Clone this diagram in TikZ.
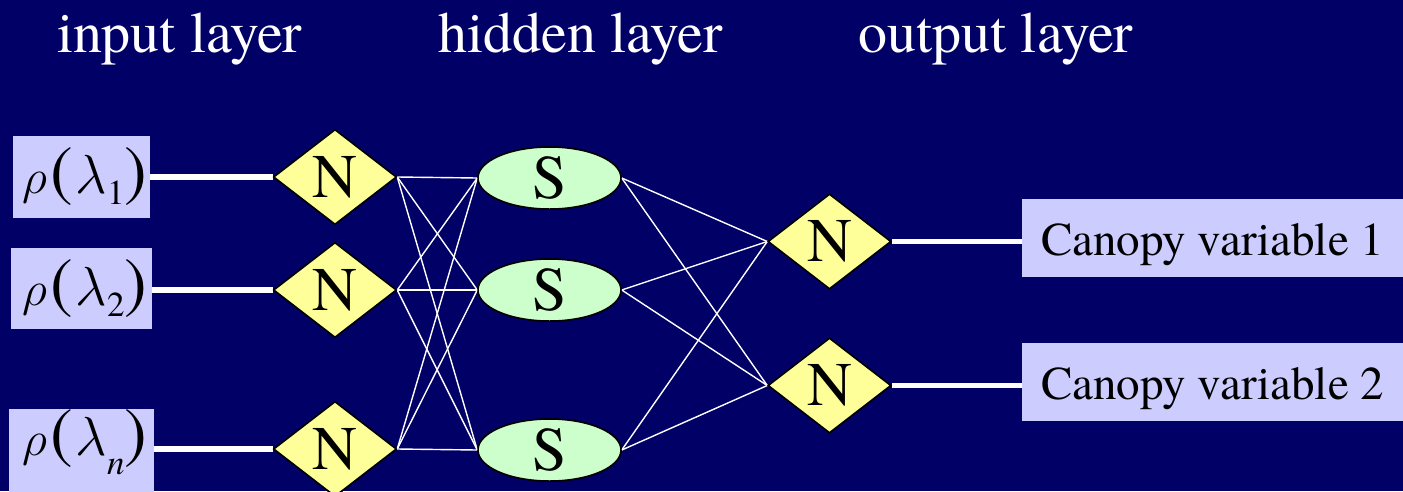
\RequirePackage{fix-cm}
\documentclass[tikz,border=0pt]{standalone}
\usepackage{fontspec}
\setmainfont{TeX Gyre Termes}
\usetikzlibrary{shapes.geometric}

\definecolor{navy}{RGB}{0,0,102}
\definecolor{lavender}{RGB}{204,204,255}
\definecolor{paleyellow}{RGB}{255,255,153}
\definecolor{palegreen}{RGB}{204,255,204}

\newcommand{\fsz}[1]{\fontsize{#1}{#1}\selectfont}
% rho(lambda_k): #1 = subscript, #2 = its drop below the baseline
\newcommand{\rholam}[2]{%
  {\fsz{49}$\rho$}\kern4pt{\fsz{68}(}\kern2pt{\fsz{55}$\lambda$}%
  \kern0pt\raisebox{-#2}{\fsz{35}#1}\kern0pt{\fsz{68})}}

\tikzset{
  inbox/.style={fill=lavender, inner sep=0pt},
  outbox/.style={fill=lavender, inner sep=0pt, minimum width=381pt, minimum height=78pt},
  normnode/.style={diamond, draw=black, line width=1.5pt, fill=paleyellow,
    inner sep=0pt, minimum width=123pt, minimum height=95pt, font=\fsz{62}},
  sigmnode/.style={ellipse, draw=black, line width=1.5pt, fill=palegreen,
    inner sep=0pt, minimum width=143pt, minimum height=62pt, font=\fsz{62}},
  title/.style={text=white, font=\fsz{58}, inner sep=0pt, anchor=base west},
  boxtext/.style={text=black, inner sep=0pt, anchor=base west},
  thickwire/.style={draw=white, line width=5.5pt},
  thinwire/.style={draw=white, line width=1.4pt},
}

\begin{document}
\begin{tikzpicture}[x=1pt, y=-1pt]
  \useasboundingbox (0,0) rectangle (1403,491);
  \fill[navy] (0,0) rectangle (1403,491);

  % layer titles
  \node[title] (tin)  at (57,52)  {input layer};
  \node[title] (thid) at (438,52) {hidden layer};
  \node[title] (tout) at (858,52) {output layer};

  % input boxes
  \node[inbox, minimum width=137pt, minimum height=82pt] (in1) at (81.5,177) {};
  \node[inbox, minimum width=141pt, minimum height=81pt] (in2) at (81.5,288.5) {};
  \node[inbox, minimum width=145pt, minimum height=90pt] (in3) at (81.5,454) {};
  \node[boxtext] (l1) at (22,193) {\rholam{1}{11pt}};
  \node[boxtext] (l2) at (22,305) {\rholam{2}{11pt}};
  \node[boxtext] (l3) at (22,455) {\rholam{\textit{n}}{19pt}};

  % input normalisation nodes
  \node[normnode] (n1) at (335,177) {N};
  \node[normnode] (n2) at (335,290) {N};
  \node[normnode] (n3) at (335,449) {N};

  % hidden sigmoid nodes
  \node[sigmnode] (s1) at (549.5,178) {S};
  \node[sigmnode] (s2) at (549.5,290) {S};
  \node[sigmnode] (s3) at (549.5,450) {S};

  % output normalisation nodes
  \node[normnode] (m1) at (829.5,241.5) {N};
  \node[normnode] (m2) at (829.5,385.5) {N};

  % output boxes
  \node[outbox] (c1) at (1212.5,238) {};
  \node[outbox] (c2) at (1212.5,382) {};
  \node[boxtext, font=\fsz{47}] (cl1) at (1041,255) {Canopy variable 1};
  \node[boxtext, font=\fsz{47}] (cl2) at (1041,399) {Canopy variable 2};

  % wires into and out of the network
  \draw[thickwire] (in1.east |- n1.west) -- (n1.west);
  \draw[thickwire] (in2.east |- n2.west) -- (n2.west);
  \draw[thickwire] (in3.east |- n3.west) -- (n3.west);
  \draw[thickwire] (m1.east) -- (c1.west |- m1.east);
  \draw[thickwire] (m2.east) -- (c2.west |- m2.east);

  % fully connected weights
  \foreach \i in {1,2,3}{
    \foreach \j in {1,2,3}{
      \draw[thinwire] (n\i.east) -- (s\j.west);
    }
    \foreach \k in {1,2}{
      \draw[thinwire] (s\i.east) -- (m\k.west);
    }
  }

  % redraw the nodes above the wires
  \foreach \i in {1,2,3}{
    \node[normnode] at (n\i) {N};
    \node[sigmnode] at (s\i) {S};
  }
  \node[normnode] at (m1) {N};
  \node[normnode] at (m2) {N};
\end{tikzpicture}
\end{document}
